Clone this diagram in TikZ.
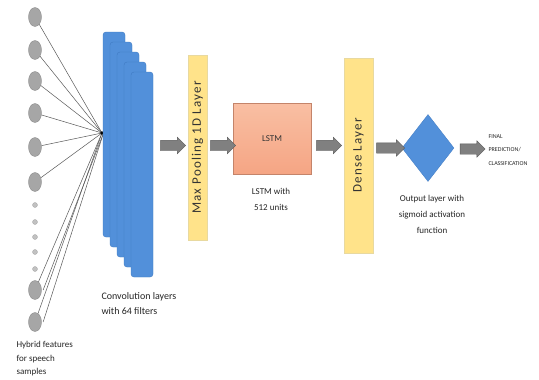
\documentclass[tikz,border=0pt]{standalone}
\usepackage{fontspec}
\setmainfont{Carlito}
\usetikzlibrary{shapes.geometric,shapes.arrows}
\definecolor{convblue}{HTML}{5290DA}
\definecolor{convedge}{HTML}{3F7AC2}
\definecolor{inpgray}{HTML}{A6A6A6}
\definecolor{yel}{HTML}{FFE38A}
\definecolor{yeledge}{HTML}{E8D9A0}
\definecolor{salmon}{HTML}{F5A584}
\definecolor{salmon2}{HTML}{F9BFA3}
\definecolor{arrgray}{HTML}{808080}
\tikzset{
  inp/.style={ellipse,fill=inpgray,draw=inpgray!80!black,line width=0.3pt,minimum width=13pt,minimum height=19pt,inner sep=0pt},
  dotn/.style={circle,fill=inpgray!70,draw=inpgray,line width=0.3pt,minimum size=5pt,inner sep=0pt},
  wire/.style={draw=black!65,line width=0.5pt},
  conv/.style={fill=convblue,draw=convedge,line width=0.4pt,rounded corners=3pt},
  layerbox/.style={fill=yel,draw=yeledge,line width=0.8pt,minimum width=19pt,inner sep=0pt},
  rotlbl/.style={rotate=90,font=\fontsize{13}{14}\selectfont\addfontfeature{LetterSpace=9},text=black!80},
  blockarr/.style={single arrow,fill=arrgray,draw=arrgray!70!black,line width=0.4pt,single arrow head extend=3pt,minimum height=25pt,inner xsep=0pt,inner ysep=5pt},
  lbl/.style={font=\fontsize{9}{13.5}\selectfont,text=black!85,align=left},
  clbl/.style={font=\fontsize{9}{16}\selectfont,text=black!85,align=center}
}
\begin{document}
\begin{tikzpicture}[x=1pt,y=-1pt]
\useasboundingbox (0,0) rectangle (539,380);
\fill[white] (0,0) rectangle (539,380);
% input nodes
\foreach \n/\yy in {1/17,2/50,3/81,4/113,5/147,6/182,7/290,8/322}
  \node[inp] (i\n) at (35,\yy) {};
\foreach \n/\yy in {1/205,2/222,3/237,4/252,5/269}
  \node[dotn] (d\n) at (35,\yy) {};
\coordinate (hub) at (102,133);
\foreach \n in {1,...,8}
  \draw[wire] (i\n) -- (hub);
\draw[wire] ([xshift=1.5pt]i7.east) -- ([xshift=1.5pt]hub);
\draw[wire] ([xshift=1.5pt]i8.east) -- ([xshift=1.5pt]hub);
\fill[black] (hub) circle (1.8pt);
\node[lbl,anchor=north west] (hyb) at (13,338) {Hybrid features\\for speech\\samples};
% conv layers
\foreach \k in {0,...,4}
  \draw[conv] ({103+7*\k},{32+10*\k}) rectangle ({125+7*\k},{237+10*\k});
\node[lbl,anchor=north west,font=\fontsize{10}{15}\selectfont] (convl) at (98,289) {Convolution layers\\with 64 filters};
% max pooling
\node[layerbox,minimum height=185pt] (mp) at (197.5,147.5) {};
\node[rotlbl] at (mp) {Max Pooling 1D Layer};
% LSTM
\node[minimum width=78pt,minimum height=71pt,inner sep=0pt,top color=salmon2,bottom color=salmon,draw=salmon!80!black,line width=0.3pt] (lstm) at (272,138.5) {};
\node[font=\fontsize{9}{10}\selectfont,text=black!80] at (lstm) {LSTM};
\node[clbl,anchor=north] (lstml) at (271,185) {LSTM with\\512 units};
% dense
\node[layerbox,minimum width=29pt,minimum height=195pt] (dense) at (358.5,155.5) {};
\node[rotlbl] at (dense) {Dense Layer};
% diamond
\node[diamond,fill=convblue,draw=convedge,line width=0.3pt,minimum width=52pt,minimum height=67pt,inner sep=0pt] (out) at (428,148) {};
\node[clbl,anchor=north] (outl) at (432,192) {Output layer with\\sigmoid activation\\function};
% final
\node[font=\fontsize{6}{13.5}\selectfont,align=left,anchor=north west,text=black!85] (fin) at (485,131) {FINAL\\PREDICTION/\\CLASSIFICATION};
% arrows
\node[blockarr] (a1) at (170.5,145.5) {};
\node[blockarr] (a2) at (220.5,145.5) {};
\node[blockarr] (a3) at (326.5,145.5) {};
\node[blockarr,minimum height=28pt] (a4) at (388,148) {};
\node[blockarr] (a5) at (470,149) {};
\end{tikzpicture}
\end{document}
